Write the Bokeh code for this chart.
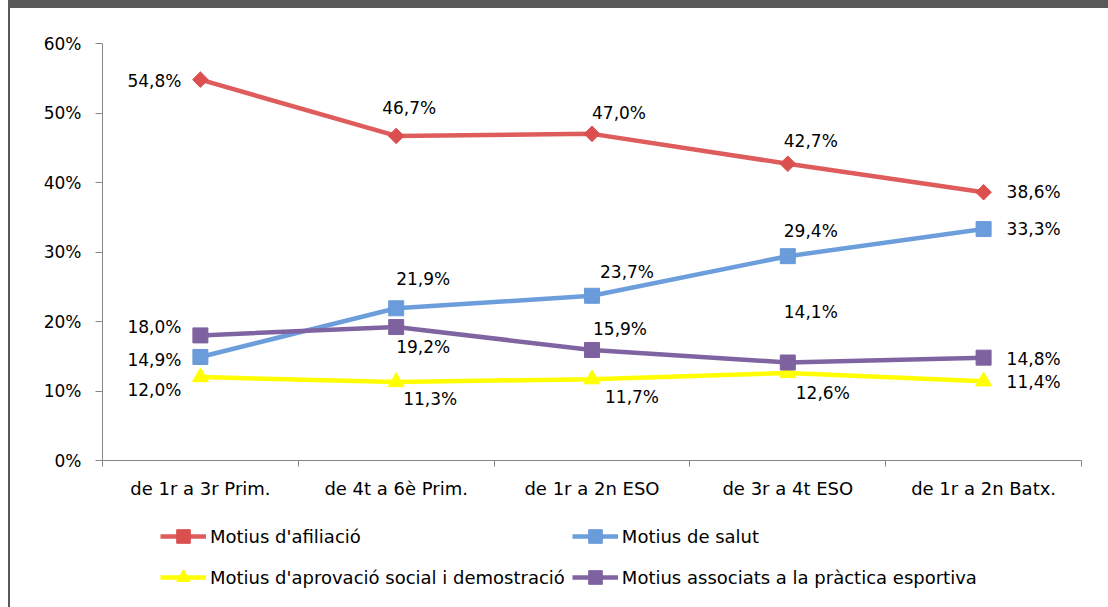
import math
from bokeh.plotting import figure
from bokeh.layouts import column
from bokeh.models import FixedTicker, Range1d, Legend, LegendItem, ColumnDataSource
from bokeh.core.properties import value
from bokeh.embed import file_html
from bokeh.resources import INLINE

# ---------------- data ----------------
categories = ["de 1r a 3r Prim.", "de 4t a 6è Prim.", "de 1r a 2n ESO",
              "de 3r a 4t ESO", "de 1r a 2n Batx."]
afiliacio = [54.8, 46.7, 47.0, 42.7, 38.6]
salut = [14.9, 21.9, 23.7, 29.4, 33.3]
aprovacio = [12.0, 11.3, 11.7, 12.6, 11.4]
practica = [18.0, 19.2, 15.9, 14.1, 14.8]
y_ticks = [0, 10, 20, 30, 40, 50, 60]
y_tick_labels = ["0%", "10%", "20%", "30%", "40%", "50%", "60%"]
names = ["Motius d'afiliació", "Motius de salut",
         "Motius d'aprovació social i demostració",
         "Motius associats a la pràctica esportiva"]

# ---------------- styles ----------------
FONT = "DejaVu Sans"
colors = ["#DE5C5C", "#6C9EDC", "#FFFF00", "#8064A2"]
marker_colors = ["#DB4F4F", "#6A9BDA", "#FFFF00", "#7E62A0"]
markers = ["square", "square", "triangle", "square"]
marker_sizes = [11, 15, 16, 15]
marker_angles = [math.pi / 4, 0, 0, 0]
# label offsets in screen pixels (dx, dy) relative to each point (left-aligned text)
label_dx = [[-73, -14, 0, -4, 23],
            [-73, 0, 8, -4, 23],
            [-73, 7, 13, 8, 23],
            [-73, 0, 1, -4, 23]]
label_dy = [[1, -28, -21, -23, 0],
            [3, -29, -24, -25, 0],
            [13, 17, 18, 20, 1],
            [-8, 20, -21, -51, 1]]
legend_order = [0, 2, 1, 3]  # column-first fill -> rows: (0,1), (2,3)

series = [afiliacio, salut, aprovacio, practica]
xs = [i + 0.5 for i in range(len(categories))]

p1 = figure(width=1098, height=502, output_backend="svg",
            toolbar_location=None,
            x_range=Range1d(0, 5), y_range=Range1d(0, 60),
            min_border_left=92, min_border_right=27, min_border_top=35,
            min_border_bottom=50, background_fill_color="white",
            border_fill_color="white", outline_line_color=None)
p1.grid.visible = False

# axes
xa = p1.xaxis[0]
xa.ticker = FixedTicker(ticks=xs, minor_ticks=list(range(len(categories) + 1)))
xa.major_label_overrides = {x: c for x, c in zip(xs, categories)}
xa.major_tick_in = 0
xa.major_tick_out = 0
xa.minor_tick_in = 0
xa.minor_tick_out = 6
xa.minor_tick_line_color = "#868686"
xa.axis_line_color = "#868686"
xa.major_label_standoff = 11
xa.major_label_text_font = FONT
xa.major_label_text_font_size = "18px"
xa.major_label_text_color = "black"

ya = p1.yaxis[0]
ya.ticker = FixedTicker(ticks=y_ticks, minor_ticks=[])
ya.major_label_overrides = {t: l for t, l in zip(y_ticks, y_tick_labels)}
ya.major_tick_in = 0
ya.major_tick_out = 7
ya.major_tick_line_color = "#868686"
ya.axis_line_color = "#868686"
ya.major_label_standoff = 14
ya.major_label_text_font = FONT
ya.major_label_text_font_size = "17px"
ya.major_label_text_color = "black"

# legend figure (below the chart); its ranges keep the data out of view
p2 = figure(width=1098, height=97, output_backend="svg", toolbar_location=None,
            x_axis_location=None, y_axis_location=None,
            x_range=Range1d(0, 5), y_range=Range1d(100, 101),
            min_border=0, min_border_left=0, min_border_right=0,
            min_border_top=0, min_border_bottom=0,
            background_fill_color="white", border_fill_color="white",
            outline_line_color=None)
p2.grid.visible = False

items = []
for k, vals in enumerate(series):
    src = ColumnDataSource(dict(x=xs, y=vals,
                                t=[f"{v:.1f}%".replace(".", ",") for v in vals],
                                dx=label_dx[k], dy=label_dy[k]))
    p1.line("x", "y", source=src, line_color=colors[k], line_width=4.5)
    p1.scatter("x", "y", source=src, marker=markers[k], size=marker_sizes[k],
               angle=marker_angles[k], fill_color=marker_colors[k],
               line_color=marker_colors[k], line_width=1)
    p1.text("x", "y", text="t", source=src, x_offset="dx", y_offset="dy",
            text_font=value(FONT), text_font_size="17px", text_color="black",
            text_align="left", text_baseline="middle")
    ln = p2.line("x", "y", source=src, line_color=colors[k], line_width=4.5)
    mk = p2.scatter("x", "y", source=src, marker=markers[k], size=marker_sizes[k],
                    angle=marker_angles[k], fill_color=marker_colors[k],
                    line_color=marker_colors[k], line_width=1)
    items.append(LegendItem(label=names[k], renderers=[ln, mk]))

legend = Legend(items=[items[i] for i in legend_order], ncols=2, location=(58, 13),
                glyph_width=46, glyph_height=34, label_standoff=4, spacing=7,
                padding=0, margin=0, border_line_color=None,
                background_fill_alpha=0, label_text_font=FONT,
                label_text_font_size="18px", label_text_color="black",
                label_height=20)
p2.add_layout(legend, "center")

p = column(p1, p2, spacing=0)
p.styles = {"margin-left": "8px", "border-top": "8px solid #595959",
            "border-left": "2px solid #595959"}

open("out.html", "w").write(file_html(p, INLINE))
